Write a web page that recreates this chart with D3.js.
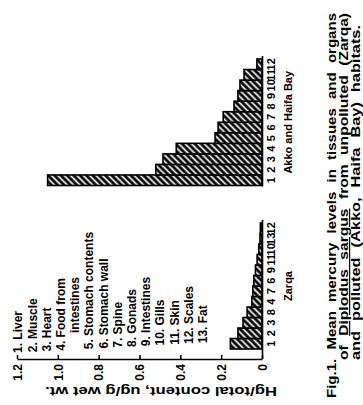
<!DOCTYPE html>
<html><head><meta charset="utf-8">
<script src="https://cdn.jsdelivr.net/npm/d3@7"></script>
<style>html,body{margin:0;padding:0;background:#fff;} svg{display:block;} text{font-family:"Liberation Sans",Arial,sans-serif;fill:#000;}</style>
</head><body><svg id="c" width="363" height="405"></svg>
<script>
// ---- data ----
const akkoLabels = ["1","2","3","4","5","6","7","8","9","10","11","12"];
const akkoValues = [1.05,0.52,0.485,0.42,0.23,0.215,0.19,0.137,0.118,0.108,0.088,0.025];
const zarqaLabels = ["1","2","3","8","4","7","6","9","11","10","13","12"];
const zarqaValues = [0.155,0.118,0.093,0.073,0.05,0.045,0.04,0.032,0.024,0.016,0.01,0.008];
const groupNames = ["Zarqa","Akko and Haifa Bay"];
const valueTicks = [0,0.2,0.4,0.6,0.8,1.0,1.2];
const tickLabels = ["0","0.2","0.4","0.6","0.8","1.0","1.2"];
const axisTitle = "Hg/total content, ug/g wet wt.";
const legendItems = ["1. Liver","2. Muscle","3. Heart","4. Food from","intestines","5. Stomach contents","6. Stomach wall","7. Spine","8. Gonads","9. Intestines","10. Gills","11. Skin","12. Scales","13. Fat"];
const captionLines = [
  [{t:"Fig.1. Mean mercury levels in tissues and organs"}],
  [{t:"of "},{t:"Diplodus sargus",u:true},{t:" from unpolluted (Zarqa)"}],
  [{t:"and polluted (Akko, Haifa Bay) habitats."}]
];

// ---- layout ----
const svg = d3.select("#c");
svg.append("rect").attr("width",363).attr("height",405).attr("fill","#fff");
const defs = svg.append("defs");
const pat = defs.append("pattern").attr("id","hatch").attr("patternUnits","userSpaceOnUse")
  .attr("width",4.5).attr("height",4.5).attr("patternTransform","rotate(-45)");
pat.append("rect").attr("width",4.5).attr("height",4.5).attr("fill","#000");
pat.append("rect").attr("x",1.4).attr("width",1.7).attr("height",4.5).attr("fill","#fff");

const axisY = 359;
const x = d3.scaleLinear().domain([0,1.2]).range([262,17]);
const akkoBand = d3.scaleBand().domain(d3.range(akkoValues.length)).range([185.5,59]);
const zarqaBand = d3.scaleBand().domain(d3.range(zarqaValues.length)).range([349,223]);

const groups = [
  {name:groupNames[0], labels:zarqaLabels, values:zarqaValues, band:zarqaBand, lineEnd:axisY},
  {name:groupNames[1], labels:akkoLabels, values:akkoValues, band:akkoBand, lineEnd:null}
];

groups.forEach(gr=>{
  const g = svg.append("g");
  g.selectAll("rect").data(gr.values).join("rect")
    .attr("x",d=>x(d)).attr("width",d=>x(0)-x(d))
    .attr("y",(d,i)=>gr.band(i)).attr("height",gr.band.bandwidth())
    .attr("fill","url(#hatch)").attr("stroke","#000").attr("stroke-width",1.6);
  const r = gr.band.range();
  g.append("line").attr("x1",x(0)+0.5).attr("x2",x(0)+0.5)
    .attr("y1",Math.min(...r)-3).attr("y2",gr.lineEnd==null?Math.max(...r)+1:gr.lineEnd)
    .attr("stroke","#000").attr("stroke-width",1.6);
  g.selectAll("text.cat").data(gr.labels).join("text").attr("class","cat")
    .attr("transform",(d,i)=>`translate(275,${gr.band(i)+gr.band.bandwidth()/2}) rotate(-90)`)
    .attr("text-anchor","middle").attr("font-size",11).attr("font-weight","bold").text(d=>d);
  const mid = (r[0]+r[1])/2;
  g.append("text").attr("transform",`translate(292,${mid}) rotate(-90)`)
    .attr("text-anchor","middle").attr("font-size",11).attr("font-weight","bold").text(gr.name);
});

// value axis
const axis = d3.axisBottom(x).tickValues(valueTicks).tickFormat((d,i)=>tickLabels[i]).tickSize(-4).tickSizeOuter(0);
svg.append("g").attr("transform",`translate(0,${axisY})`).call(axis)
  .attr("font-family",'"Liberation Sans",Arial,sans-serif').attr("font-size",12)
  .call(g=>g.select(".domain").attr("stroke","#000").attr("stroke-width",1.6))
  .call(g=>g.selectAll(".tick line").attr("stroke","#000").attr("stroke-width",1.6))
  .call(g=>g.selectAll(".tick text").attr("transform","rotate(-90)").attr("text-anchor","end")
    .attr("x",-5).attr("y",0).attr("dy","0.35em").attr("font-weight","bold"));

svg.append("text").attr("transform",`translate(161,387) rotate(180)`)
  .attr("text-anchor","middle").attr("font-size",13).attr("font-weight","bold")
  .attr("textLength",232).attr("lengthAdjust","spacingAndGlyphs").text(axisTitle);

// legend
svg.append("g").selectAll("text").data(legendItems).join("text")
  .attr("transform",(d,i)=>`translate(${22.3+i*14.2},${(d==="intestines"?333:353 - i*0.75)}) rotate(-90)`)
  .attr("font-size",12).attr("font-weight","bold").text(d=>d);

// caption
const capX = [336,348,360];
const capStart = [398,360,360];
const capLen = [385,347,335];
const cap = svg.append("g");
captionLines.forEach((line,i)=>{
  const t = cap.append("text").attr("transform",`translate(${capX[i]},${capStart[i]}) rotate(-90)`)
    .attr("font-size",12).attr("font-weight","bold").attr("word-spacing",4)
    .attr("textLength",capLen[i]).attr("lengthAdjust","spacingAndGlyphs");
  line.forEach(s=>{
    const ts = t.append("tspan").text(s.t);
    if(s.u) ts.style("text-decoration","underline");
  });
});
</script></body></html>
